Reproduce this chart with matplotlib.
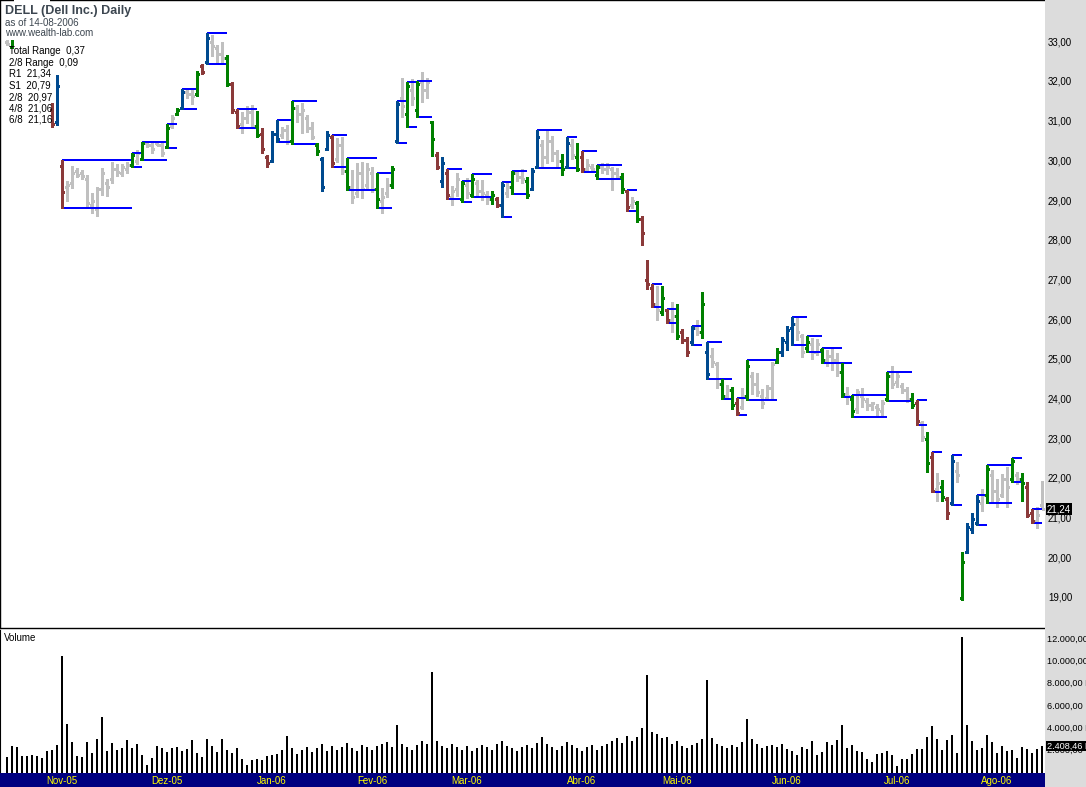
import matplotlib
matplotlib.use("Agg")
import matplotlib.pyplot as plt
from matplotlib.collections import LineCollection
from matplotlib.patches import Rectangle

# ---------------- data ----------------
highs = [33.05, 33.05, 33.30, 33.00, 32.80, 32.60, 32.40, 32.20, 32.00, 31.47,
         32.17, 30.03, 29.51, 29.88, 29.82, 29.78, 29.65, 29.21, 29.36, 29.82,
         29.55, 29.97, 29.93, 29.93, 29.99, 30.20, 30.28, 30.49, 30.49, 30.49,
         30.49, 30.49, 30.94, 31.17, 31.34, 31.81, 31.84, 31.84, 32.28, 32.45,
         33.22, 33.18, 32.93, 33.00, 32.68, 32.00, 31.31, 31.25, 31.39, 31.42,
         31.27, 30.83, 30.16, 30.77, 31.04, 30.87, 30.91, 31.52, 31.42, 31.48,
         31.17, 31.00, 30.45, 30.12, 30.77, 30.66, 30.58, 30.60, 30.08, 29.78,
         29.95, 29.99, 29.95, 29.86, 29.70, 29.32, 29.57, 29.88, 31.53, 32.09,
         31.99, 32.07, 32.02, 32.26, 32.09, 31.02, 30.24, 30.12, 29.80, 29.38,
         29.70, 29.50, 29.57, 29.67, 29.53, 29.53, 29.25, 29.24, 29.11, 29.47,
         29.45, 29.76, 29.78, 29.80, 29.61, 29.84, 30.79, 30.54, 30.81, 30.64,
         30.28, 30.18, 30.60, 30.55, 30.45, 30.26, 30.06, 29.92, 29.90, 29.96,
         29.95, 29.85, 29.82, 29.70, 29.28, 29.11, 29.00, 28.62, 27.51, 26.90,
         26.87, 26.86, 26.27, 26.45, 26.40, 25.77, 25.57, 25.85, 26.00, 26.72,
         25.44, 25.29, 24.95, 24.51, 24.37, 24.31, 24.03, 24.28, 25.00, 24.70,
         24.66, 24.26, 24.37, 24.95, 25.29, 25.57, 25.85, 26.07, 26.05, 25.65,
         25.60, 25.54, 25.52, 25.29, 25.25, 25.33, 25.16, 24.91, 24.31, 24.11,
         24.26, 24.28, 24.03, 23.94, 23.89, 23.99, 24.70, 24.84, 24.66, 24.41,
         24.32, 24.16, 23.99, 23.46, 23.17, 22.67, 22.16, 21.97, 21.54, 22.60,
         22.43, 20.17, 20.88, 21.13, 21.59, 21.74, 22.35, 22.22, 21.99, 22.12,
         22.29, 22.52, 22.18, 22.16, 21.93, 21.23, 21.28, 21.95]
lows = [32.93, 32.85, 32.60, 32.40, 32.20, 32.00, 31.80, 31.60, 31.40, 30.86,
        30.91, 28.82, 29.01, 29.32, 29.61, 29.55, 28.82, 28.69, 28.62, 29.15,
        29.13, 29.45, 29.63, 29.63, 29.70, 29.85, 29.93, 30.03, 30.37, 30.20,
        30.40, 30.14, 30.33, 30.83, 31.17, 31.31, 31.59, 31.45, 31.64, 32.20,
        32.45, 32.64, 32.47, 32.47, 31.90, 31.22, 30.83, 30.72, 30.96, 30.83,
        30.60, 30.22, 29.86, 29.97, 30.49, 30.58, 30.44, 30.44, 31.00, 30.71,
        30.75, 30.55, 30.16, 29.26, 30.28, 29.86, 29.99, 29.68, 29.28, 28.96,
        29.11, 29.07, 29.32, 29.23, 28.82, 28.71, 29.11, 29.32, 30.45, 31.12,
        30.86, 31.42, 31.12, 31.50, 31.59, 30.13, 29.80, 29.36, 29.04, 28.90,
        29.13, 28.98, 29.07, 29.09, 29.15, 29.03, 28.92, 28.92, 28.84, 28.59,
        29.11, 29.18, 29.51, 29.45, 29.07, 29.28, 29.82, 29.88, 29.95, 30.02,
        29.86, 29.66, 29.82, 30.05, 29.76, 29.72, 29.76, 29.74, 29.55, 29.71,
        29.69, 29.28, 29.55, 29.21, 28.76, 28.82, 28.48, 27.89, 26.79, 26.32,
        26.00, 26.13, 25.92, 25.71, 25.52, 25.43, 25.10, 25.37, 25.62, 25.54,
        24.51, 24.81, 24.28, 24.01, 24.03, 23.75, 23.61, 23.75, 23.99, 24.14,
        24.09, 23.79, 24.01, 24.01, 24.91, 25.10, 25.25, 25.37, 25.50, 25.08,
        25.20, 25.01, 25.12, 24.91, 24.84, 24.74, 24.59, 24.07, 23.89, 23.55,
        23.65, 23.82, 23.74, 23.74, 23.57, 23.55, 23.97, 24.28, 24.31, 24.16,
        23.94, 23.78, 23.36, 22.96, 22.18, 21.66, 21.45, 21.45, 20.98, 21.34,
        21.93, 18.95, 20.14, 20.63, 20.84, 21.20, 21.40, 21.40, 21.30, 21.55,
        21.30, 21.93, 21.87, 21.45, 21.03, 20.88, 20.76, 21.23]
opens = [33.00, 32.88, 33.00, 32.75, 32.55, 32.35, 32.15, 31.95, 31.75, 31.30,
         31.00, 29.88, 29.36, 29.45, 29.75, 29.70, 29.55, 28.90, 28.80, 29.30,
         29.45, 29.55, 29.80, 29.70, 29.80, 29.90, 30.00, 30.05, 30.45, 30.40,
         30.45, 30.40, 30.35, 30.90, 31.20, 31.35, 31.75, 31.70, 31.70, 32.40,
         32.50, 33.00, 32.85, 32.70, 32.60, 31.95, 31.25, 30.95, 31.10, 31.25,
         30.90, 30.70, 30.10, 30.00, 30.70, 30.65, 30.80, 30.50, 31.35, 31.20,
         31.10, 30.85, 30.40, 30.05, 30.30, 30.60, 30.05, 30.40, 29.75, 29.35,
         29.20, 29.70, 29.40, 29.70, 29.30, 29.00, 29.20, 29.40, 30.50, 31.60,
         31.20, 31.80, 31.30, 32.00, 31.80, 31.00, 30.15, 29.50, 29.70, 29.10,
         29.30, 29.05, 29.40, 29.15, 29.45, 29.25, 29.15, 29.05, 29.05, 28.90,
         29.20, 29.35, 29.70, 29.60, 29.50, 29.30, 29.85, 30.40, 30.10, 30.50,
         30.20, 30.00, 29.85, 30.40, 30.10, 30.10, 29.80, 29.85, 29.65, 29.85,
         29.80, 29.80, 29.70, 29.60, 29.25, 28.90, 28.95, 28.55, 27.00, 26.80,
         26.40, 26.20, 26.25, 26.00, 26.10, 25.70, 25.50, 25.45, 25.80, 25.70,
         25.19, 25.10, 24.90, 24.40, 24.10, 24.25, 23.90, 23.80, 24.10, 24.60,
         24.40, 24.10, 24.05, 24.30, 24.95, 25.20, 25.45, 25.80, 25.90, 25.60,
         25.30, 25.40, 25.20, 25.25, 25.00, 25.10, 25.00, 24.70, 24.15, 24.00,
         23.75, 24.10, 23.95, 23.85, 23.80, 23.70, 24.00, 24.60, 24.45, 24.35,
         24.25, 24.00, 23.90, 23.40, 23.00, 22.55, 21.75, 21.80, 21.50, 21.40,
         22.20, 19.00, 20.15, 20.75, 20.90, 21.40, 21.60, 22.10, 21.70, 21.60,
         22.00, 22.00, 22.10, 22.00, 21.80, 21.15, 20.95, 21.35]
closes = [32.96, 33.02, 32.70, 32.50, 32.30, 32.10, 31.90, 31.70, 31.50, 30.95,
          31.90, 29.23, 29.40, 29.70, 29.65, 29.62, 28.95, 29.00, 29.30, 29.70,
          29.35, 29.80, 29.72, 29.85, 29.90, 30.15, 30.20, 30.45, 30.40, 30.30,
          30.42, 30.20, 30.85, 31.10, 31.30, 31.75, 31.70, 31.65, 32.20, 32.25,
          33.10, 32.90, 32.70, 32.60, 31.95, 31.30, 30.90, 31.10, 31.25, 30.90,
          30.65, 30.30, 29.95, 30.70, 30.55, 30.80, 30.50, 31.35, 31.20, 31.30,
          30.85, 30.60, 30.25, 29.35, 30.65, 29.95, 30.40, 29.75, 29.35, 29.10,
          29.70, 29.30, 29.80, 29.30, 29.05, 29.10, 29.40, 29.80, 31.45, 31.40,
          31.90, 31.60, 31.95, 31.80, 32.00, 30.55, 29.85, 29.95, 29.15, 29.25,
          29.55, 29.45, 29.20, 29.55, 29.25, 29.20, 29.05, 29.15, 28.90, 29.40,
          29.35, 29.70, 29.60, 29.55, 29.15, 29.75, 30.60, 30.10, 30.50, 30.20,
          30.00, 29.80, 30.45, 30.15, 29.80, 29.80, 29.90, 29.80, 29.85, 29.80,
          29.85, 29.70, 29.60, 29.30, 28.85, 29.00, 28.55, 28.20, 26.90, 26.40,
          26.25, 26.55, 26.00, 26.10, 25.60, 25.50, 25.20, 25.80, 25.70, 26.40,
          24.63, 24.95, 24.40, 24.10, 24.25, 23.85, 23.65, 24.10, 24.85, 24.40,
          24.20, 23.90, 24.30, 24.90, 25.20, 25.50, 25.75, 25.90, 25.70, 25.20,
          25.45, 25.20, 25.40, 25.00, 25.10, 25.00, 24.70, 24.15, 24.10, 23.70,
          24.20, 24.00, 23.85, 23.90, 23.75, 23.90, 24.60, 24.40, 24.60, 24.25,
          24.00, 23.85, 23.45, 23.05, 22.40, 21.70, 21.90, 21.55, 21.15, 22.45,
          22.10, 19.90, 20.80, 21.00, 21.45, 21.60, 22.25, 21.70, 21.50, 22.00,
          21.80, 22.45, 22.00, 21.90, 21.10, 20.95, 21.10, 21.24]
# bar colour codes: g = inside bar (grey), G = green, R = red/brown, N = navy
bar_codes = ("gGRRRRRRRR" "NRgggggggg" "gggggGgGgg" "ggGgGNggGR" "NgggGRRggg"
             "GRRNNggGgg" "ggGNNRggGg" "ggggGggGNg" "GgGggGRNRg" "gGgGgggGRN"
             "gGggGNNggg" "gGNgGRggGg" "gggGRgGRRR" "gGRgGRRNgG" "NggGgGRgGg"
             "ggggGNNNgg" "GggGgggGgG" "ggggggGggg" "gGRgGRgGRN" "gGNNNgGggg"
             "gGgGRRgg")
volumes = [1393, 2430, 2341, 1541, 1541, 1630, 1541, 1363, 1985, 2074,
           2519, 10430, 4385, 2785, 1541, 1452, 2785, 1807, 3052, 5007,
           1985, 2696, 2074, 2252, 2963, 2252, 2607, 1630, 741, 1363,
           2430, 2252, 1896, 2252, 2341, 1985, 2163, 2963, 1807, 1452,
           3052, 2430, 1896, 3052, 2074, 1807, 2252, 1274, 741, 1185,
           1274, 1185, 1541, 1630, 1719, 2074, 3319, 2252, 1719, 2100,
           2300, 1900, 2200, 2600, 2000, 2400, 2100, 2300, 2700, 2200,
           2000, 2500, 2300, 2100, 2400, 2600, 2800, 2300, 4300, 2600,
           2300, 2100, 2500, 2900, 2600, 9000, 2900, 2400, 2200, 2600,
           2300, 2100, 2400, 2000, 2200, 2500, 2300, 2100, 2600, 2900,
           2400, 2200, 2000, 2300, 2500, 2200, 2700, 3200, 2600, 2300,
           2100, 2400, 2800, 2500, 2200, 2000, 2300, 2500, 2100, 2400,
           2600, 2900, 3100, 2700, 3300, 2900, 3200, 4000, 8800, 3700,
           3500, 3100, 3200, 2600, 2900, 2400, 2200, 2500, 2700, 3000,
           8300, 3100, 2600, 2400, 2200, 2500, 2300, 2800, 4800, 3000,
           2600, 2200, 2400, 2500, 2300, 2607, 2163, 1985, 1630, 2341,
           2163, 2874, 1630, 1896, 2785, 2519, 2963, 4296, 2252, 2519,
           1985, 1896, 1274, 1007, 1719, 1807, 1985, 1630, 652, 1274,
           1274, 1719, 2163, 2163, 3230, 4207, 3052, 2074, 2963, 3407,
           1807, 12207, 4296, 2874, 2074, 2252, 3407, 2785, 1807, 2430,
           1985, 2074, 1363, 2341, 2163, 1807, 2163, 2408]
month_labels = ["Nov-05", "Dez-05", "Jan-06", "Fev-06", "Mar-06",
                "Abr-06", "Mai-06", "Jun-06", "Jul-06", "Ago-06"]
month_first_bar = [11, 32, 53, 73, 92, 115, 134, 156, 178, 198]
price_ticks = [19, 20, 21, 22, 23, 24, 25, 26, 27, 28, 29, 30, 31, 32, 33]
volume_ticks = [2000, 4000, 6000, 8000, 10000, 12000]
legend_lines = ["Total Range  0,37", "2/8 Range  0,09", "R1  21,34", "S1  20,79",
                "2/8  20,97", "4/8  21,06", "6/8  21,16"]
last_volume_label = "2.408,46 M"

# ---------------- layout ----------------
W, H = 1086, 787
DPI = 100
fig = plt.figure(figsize=(W / DPI, H / DPI), dpi=DPI)
fig.patch.set_facecolor("white")
FONT = "Liberation Sans"


def rect(x0, y0, x1, y1):
    return [x0 / W, 1 - y1 / H, (x1 - x0) / W, (y1 - y0) / H]


PR = 1045
# grey scale panel on the right
fig.patches.append(Rectangle((PR / W, 0), 1 - PR / W, 1, transform=fig.transFigure,
                             facecolor="#DCDCDC", edgecolor="none", zorder=0))

axp = fig.add_axes(rect(0, 0, PR, 628))
axv = fig.add_axes(rect(0, 630, PR, 773))
axb = fig.add_axes(rect(0, 773, PR, 787))

n = len(highs)
XMIN, XMAX = -1.4, 207.6
PMIN, PMAX = 18.244, 34.063
VMAX = 12790

col_map = {"g": "#C0C0C0", "G": "#008000", "R": "#8B3A3A", "N": "#004A8F"}

for ax in (axp, axv, axb):
    ax.set_xlim(XMIN, XMAX)
    ax.set_xticks([])
    ax.set_yticks([])
    for s in ax.spines.values():
        s.set_visible(False)

axp.set_ylim(PMIN, PMAX)
axv.set_ylim(0, VMAX)
axb.set_ylim(0, 1)
axb.set_facecolor("#000080")

# price pane frame
for s in ("left", "top", "bottom"):
    axp.spines[s].set_visible(True)
    axp.spines[s].set_color("black")
    axp.spines[s].set_linewidth(1.0)
axv.spines["left"].set_visible(True)
axv.spines["left"].set_color("black")

# ---------------- OHLC bars ----------------
tick = 0.4
segs, cols = [], []
for i in range(n):
    c = col_map[bar_codes[i]]
    segs.append([(i, lows[i]), (i, highs[i])])
    segs.append([(i - tick, opens[i]), (i, opens[i])])
    segs.append([(i, closes[i]), (i + tick, closes[i])])
    cols += [c, c, c]
gray_idx = [k for k in range(len(segs)) if cols[k] == "#C0C0C0"]
col_idx = [k for k in range(len(segs)) if cols[k] != "#C0C0C0"]
axp.add_collection(LineCollection([segs[k] for k in gray_idx], colors=[cols[k] for k in gray_idx],
                                  linewidths=0.75, antialiased=False, zorder=2))

# ---------------- boxes (start at a coloured bar followed by an inside bar) ----------------
box_segs = []
for i in range(n - 1):
    if bar_codes[i] != "g" and bar_codes[i + 1] == "g":
        j = i + 1
        while j < n - 1 and bar_codes[j] == "g":
            j += 1
        box_segs.append([(i, highs[i]), (j, highs[i])])
        box_segs.append([(i, lows[i]), (j, lows[i])])
axp.add_collection(LineCollection(box_segs, colors="#0000FF", linewidths=1.1,
                                  antialiased=False, zorder=3))
axp.add_collection(LineCollection([segs[k] for k in col_idx], colors=[cols[k] for k in col_idx],
                                  linewidths=0.9, antialiased=False, zorder=4))

# ---------------- volume ----------------
axv.vlines(range(n), 0, volumes, colors="black", linewidth=1.2, antialiased=False)
axv.text(4 / PR, 1 - 8 / 143, "Volume", transform=axv.transAxes, fontsize=7,
         family=FONT, va="center", ha="left")

# ---------------- month labels ----------------
for lab, i in zip(month_labels, month_first_bar):
    axb.text(i, 0.45, lab, color="#FFFF00", fontsize=7, family=FONT, ha="center", va="center")


# ---------------- right-side scales ----------------
def py(p):
    return (598 - (p - 19) * 39.7)


for p in price_ticks:
    fig.text(1048 / W, 1 - py(p) / H, f"{p},00", fontsize=7, family=FONT,
             va="center", ha="left")
fig.text(1047 / W, 1 - py(closes[-1]) / H, f"{closes[-1]:.2f}".replace(".", ","),
         fontsize=7, family=FONT, va="center", ha="left", color="white",
         bbox=dict(facecolor="black", edgecolor="none", pad=0.6))


def vy(v):
    return 773 - v / VMAX * 143


for v in volume_ticks:
    s = f"{v:,.2f}".replace(",", "X").replace(".", ",").replace("X", ".") + " M"
    fig.text(1047 / W, 1 - vy(v) / H, s, fontsize=6.6, family=FONT, va="center", ha="left")
fig.text(1047 / W, 1 - vy(volumes[-1]) / H, last_volume_label, fontsize=6.6, family=FONT,
         va="center", ha="left", color="white",
         bbox=dict(facecolor="black", edgecolor="none", pad=0.6))

# ---------------- header / legend ----------------
# background behind header text (hides the earliest bars as in the original)
axp.add_patch(Rectangle((1.4, 30.86), 7.2, PMAX - 30.86, facecolor="white",
                        edgecolor="none", zorder=5))
fig.text(5 / W, 1 - 11 / H, "DELL (Dell Inc.) Daily", fontsize=9, family=FONT,
         weight="bold", color="#3C4650", va="center", ha="left", zorder=6)
fig.text(5 / W, 1 - 22.5 / H, "as of 14-08-2006", fontsize=7, family=FONT,
         color="#3C4650", va="center", ha="left")
fig.text(5 / W, 1 - 33.5 / H, "www.wealth-lab.com", fontsize=7, family=FONT,
         color="#3C4650", va="center", ha="left")
for k, line in enumerate(legend_lines):
    fig.text(9 / W, 1 - (51 + k * 11.5) / H, line, fontsize=7, family=FONT,
             color="black", va="center", ha="left")

fig.savefig("out.png", dpi=DPI, facecolor="white")
